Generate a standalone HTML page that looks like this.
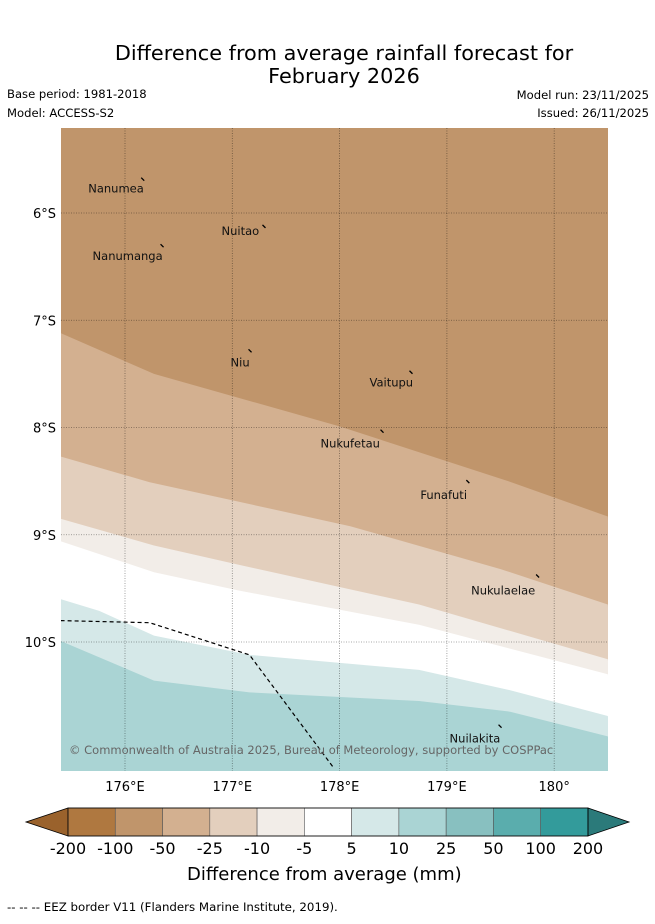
<!DOCTYPE html>
<html><head><meta charset="utf-8"><style>
body{margin:0;background:#fff;width:655px;height:919px;overflow:hidden;font-family:"Liberation Sans","DejaVu Sans",sans-serif}
svg text{font-family:"DejaVu Sans","Liberation Sans",sans-serif}
</style></head><body>
<svg id="s" width="655" height="919" xmlns="http://www.w3.org/2000/svg">
<text x="344" y="60" font-size="20.8" text-anchor="middle">Difference from average rainfall forecast for</text>
<text x="344" y="83" font-size="20.8" text-anchor="middle">February 2026</text>
<text x="7" y="98" font-size="11.6">Base period: 1981-2018</text>
<text x="7" y="117" font-size="11.6">Model: ACCESS-S2</text>
<text x="649" y="99" font-size="11.6" text-anchor="end">Model run: 23/11/2025</text>
<text x="649" y="117" font-size="11.6" text-anchor="end">Issued: 26/11/2025</text>
<defs><clipPath id="mc"><rect x="61" y="128" width="547" height="643"/></clipPath></defs>
<g id="map" clip-path="url(#mc)"></g>
<g id="ov"></g>
<text x="187" y="880" font-size="18">Difference from average (mm)</text>
<text x="7" y="911" font-size="11.8">-- -- -- EEZ border V11 (Flanders Marine Institute, 2019).</text>
</svg>
<script>
const lonTicks=[176,177,178,179,180];
const latTicks=[6,7,8,9,10];
const bandColors=["#c0956b","#d3b090","#e3cfbd","#f2ede8","#ffffff","#d5e8e8","#aad4d4"];
const b1=[[175.4,7.12],[176.27,7.5],[178.0,7.99],[179.57,8.5],[180.5,8.83]];
const b2=[[175.4,8.27],[176.23,8.51],[178.1,8.92],[179.5,9.32],[180.5,9.65]];
const b3=[[175.4,8.85],[176.27,9.1],[177.06,9.28],[178.74,9.65],[180.5,10.16]];
const b4=[[175.4,9.06],[176.27,9.35],[177.06,9.52],[178.74,9.84],[180.5,10.3]];
const b5=[[175.4,9.6],[175.76,9.71],[176.27,9.94],[177.16,10.12],[178.74,10.26],[179.59,10.45],[180.5,10.69]];
const b6=[[175.4,9.99],[176.27,10.36],[177.16,10.47],[178.74,10.55],[179.59,10.65],[180.5,10.88]];
const bounds=[b1,b2,b3,b4,b5,b6];
const eez=[[175.4,9.8],[176.23,9.82],[177.16,10.12],[177.95,11.18]];
const islands=[["Nanumea",176.17,5.68,-55,14],["Nuitao",177.3,6.12,-43,9],["Nanumanga",176.35,6.3,-70,15],["Niu",177.17,7.28,-20,16],["Vaitupu",178.67,7.48,-42,15],["Nukufetau",178.4,8.03,-62,17],["Funafuti",179.2,8.5,-48,18],["Nukulaelae",179.85,9.38,-67,19],["Nuilakita",179.5,10.78,-51,17]];
const cbLabels=["-200","-100","-50","-25","-10","-5","5","10","25","50","100","200"];
const cbColors=["#af7840","#c0956b","#d3b090","#e3cfbd","#f2ede8","#ffffff","#d5e8e8","#aad4d4","#88c0c0","#5aadad","#339b9b"];
const X=l=>125+(l-176)*107.3, Y=t=>213+(t-6)*107.25;
const NS="http://www.w3.org/2000/svg";
function mk(tag,at,parent){const e=document.createElementNS(NS,tag);for(const k in at)e.setAttribute(k,at[k]);parent.appendChild(e);return e;}
const map=document.getElementById('map'), ov=document.getElementById('ov'), s=document.getElementById('s');
let r=mk('rect',{x:61,y:128,width:547,height:643,fill:bandColors[0]},map);


bounds.forEach((b,i)=>{
 let d='M'+b.map(p=>X(p[0]).toFixed(1)+','+Y(p[1]).toFixed(1)).join(' L')+' L620,780 L50,780 Z';
 const p=mk('path',{d:d,fill:bandColors[i+1]},map);
 
 
});
lonTicks.forEach(l=>{
 const g=mk('line',{x1:X(l),x2:X(l),y1:128,y2:771,stroke:"#000","stroke-opacity":0.45,"stroke-width":0.8,"stroke-dasharray":"1,1.5"},map);
 
 
 const t=mk('text',{x:X(l),y:791,"font-size":13,"text-anchor":"middle"},s);t.textContent=l+'°'+(l==180?'':'E');
 
 
});
latTicks.forEach(l=>{
 const g=mk('line',{x1:61,x2:608,y1:Y(l),y2:Y(l),stroke:"#000","stroke-opacity":0.45,"stroke-width":0.8,"stroke-dasharray":"1,1.5"},map);
 
 
 const t=mk('text',{x:56,y:Y(l)+5,"font-size":13,"text-anchor":"end"},s);t.textContent=l+'°S';
 
 
});
const e=mk('path',{d:'M'+eez.map(p=>X(p[0]).toFixed(1)+','+Y(p[1]).toFixed(1)).join(' L'),fill:'none',stroke:'#000','stroke-width':1.2,'stroke-dasharray':'4,3'},map);


islands.forEach(i=>{
 const x=X(i[1]),y=Y(i[2]);
 const m=mk('line',{x1:x-2,y1:y-1,x2:x+1,y2:y+2,stroke:'#000','stroke-width':1.3},map);
 
 
 const t=mk('text',{x:x+i[3],y:y+i[4],"font-size":11.5,fill:'#111'},map);t.textContent=i[0];
 
 
});
const cp=mk('text',{x:69,y:754,"font-size":11.5,fill:'#666'},map);cp.textContent='© Commonwealth of Australia 2025, Bureau of Meteorology, supported by COSPPac';


const cx0=68,cw=47.27,cy=808,ch=28;
let la=mk('path',{d:`M${cx0},${cy} L26,${cy+ch/2} L${cx0},${cy+ch} Z`,fill:'#9a622c',stroke:'#000','stroke-width':0.8},ov);


cbColors.forEach((c,i)=>{
 const q=mk('rect',{x:cx0+i*cw,y:cy,width:cw,height:ch,fill:c,stroke:'#555','stroke-width':0.6},ov);
 
 
});
let ra=mk('path',{d:`M${cx0+11*cw},${cy} L629,${cy+ch/2} L${cx0+11*cw},${cy+ch} Z`,fill:'#2b7a7a',stroke:'#000','stroke-width':0.8},ov);


mk('rect',{x:cx0,y:cy,width:11*cw,height:ch,fill:'none',stroke:'#000','stroke-width':0.8},ov);
cbLabels.forEach((l,i)=>{
 const t=mk('text',{x:cx0+i*cw,y:854,"font-size":16,"text-anchor":"middle"},ov);t.textContent=l;
 
 
});
</script>
</body></html>
